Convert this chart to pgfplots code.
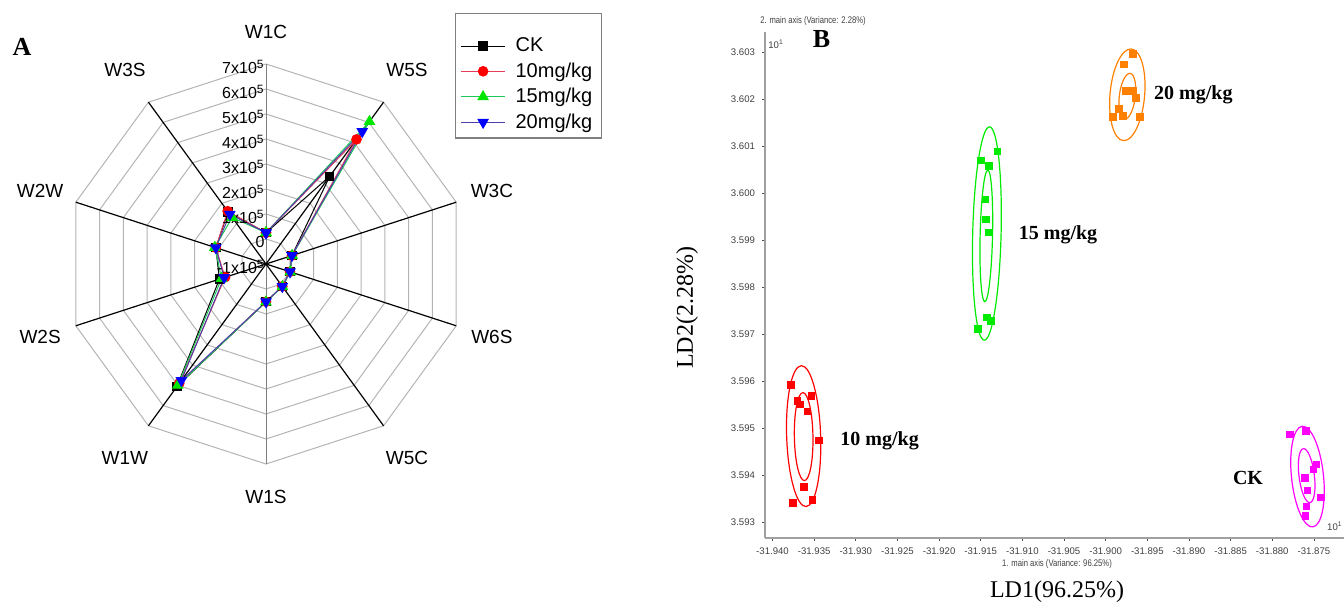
\documentclass[border=0pt]{standalone}
\usepackage{fontspec}
\setmainfont{Liberation Sans}
\newfontfamily\timesfont{Liberation Serif}
\usepackage{graphicx}
\usepackage{pgfplots}
\usepackage{pgfplotstable}
\pgfplotsset{compat=1.18}

\definecolor{ringgray}{RGB}{180,180,180}
\definecolor{redline}{RGB}{230,60,90}
\definecolor{greenline}{RGB}{30,200,90}
\definecolor{blueline}{RGB}{80,60,170}
\definecolor{mkred}{RGB}{255,0,0}
\definecolor{mkgreen}{RGB}{0,230,0}
\definecolor{mkblue}{RGB}{0,0,255}
\definecolor{orng}{RGB}{255,128,0}
\definecolor{magn}{RGB}{255,0,255}
\definecolor{ldagreen}{RGB}{0,235,0}
\definecolor{axgray}{RGB}{160,160,160}

% radar values, in units of 10^5
\pgfplotstableread{
ang  ck   c10  c15  c20
90   0.25 0.25 0.25 0.25
54   3.34 5.16 6.04 5.55
18   0.09 0.09 0.10 0.09
-18  0.01 0.01 0.02 0.01
-54  0.11 0.11 0.12 0.11
-90  0.51 0.51 0.52 0.51
-126 5.06 4.90 5.00 4.76
-162 0.96 0.72 0.87 0.76
162  1.11 1.11 1.15 1.11
126  1.58 1.61 1.30 1.46
90   0.25 0.25 0.25 0.25
}\radardata

% LDA scores
\pgfplotstableread{
x y
-31.93779 3.59592
-31.93700 3.59558
-31.93668 3.59551
-31.93536 3.59569
-31.93584 3.59535
-31.93443 3.59474
-31.93623 3.59375
-31.93755 3.59341
-31.93520 3.59347
}\tenmg
\pgfplotstableread{
x y
-31.91300 3.60088
-31.91499 3.60069
-31.91403 3.60058
-31.91444 3.59987
-31.91439 3.59944
-31.91403 3.59916
-31.91427 3.59736
-31.91379 3.59728
-31.91535 3.59711
}\fifteenmg
\pgfplotstableread{
x y
-31.89675 3.60296
-31.89783 3.60274
-31.89759 3.60217
-31.89675 3.60217
-31.89639 3.60202
-31.89843 3.60179
-31.89915 3.60162
-31.89795 3.60164
-31.89587 3.60162
}\twentymg
\pgfplotstableread{
x y
-31.87787 3.59487
-31.87595 3.59494
-31.87467 3.59423
-31.87508 3.59412
-31.87607 3.59394
-31.87580 3.59368
-31.87415 3.59353
-31.87587 3.59333
-31.87604 3.59313
}\ckdata

\begin{document}
\begin{tikzpicture}
\path[use as bounding box] (0,0) rectangle (672pt,301.5pt);

% ---------------- panel A: radar ----------------
\begin{axis}[
at={(8pt,44.5pt)}, anchor=south west,
width=250pt, height=250pt, scale only axis,
xmin=-10, xmax=10, ymin=-10, ymax=10,
hide axis, clip=false,
legend style={at={(0.878,1.002)}, anchor=north west, draw=gray, line width=0.6pt,
  font=\fontsize{10}{11}\selectfont, inner xsep=2.5pt, inner ysep=1.5pt, row sep=0pt,
  cells={anchor=west}, /tikz/every odd column/.append style={column sep=3pt}},
legend image code/.code={\draw[mark repeat=2,mark phase=2] plot coordinates {(0pt,0pt) (11pt,0pt) (22pt,0pt)};}
]
\pgfplotsinvokeforeach{1,...,8}{
\addplot[ringgray, line width=0.5pt, data cs=polar, forget plot] coordinates {(90,#1) (54,#1) (18,#1) (-18,#1) (-54,#1) (-90,#1) (-126,#1) (-162,#1) (162,#1) (126,#1) (90,#1)};
}
\addplot[gray, line width=0.5pt, data cs=polar, forget plot] coordinates {(90,8) (-90,8)};
\addplot[black, line width=0.6pt, data cs=polar, forget plot] coordinates {(54,8) (-126,8)};
\addplot[black, line width=0.6pt, data cs=polar, forget plot] coordinates {(18,8) (-162,8)};
\addplot[black, line width=0.6pt, data cs=polar, forget plot] coordinates {(-18,8) (162,8)};
\addplot[black, line width=0.6pt, data cs=polar, forget plot] coordinates {(-54,8) (126,8)};

% blank first legend row: the reference leaves room above CK
\addlegendimage{empty legend}
\addlegendentry{\rule{0pt}{3pt}}

\addplot[black, line width=0.5pt, mark=square*, mark size=2.1pt, mark options={fill=black}, data cs=polar]
  table[x=ang, y expr=\thisrow{ck}+1] {\radardata};
\addlegendentry{CK}
\addplot[redline, line width=0.5pt, mark=*, mark size=2.4pt, mark options={draw=mkred, fill=mkred}, data cs=polar]
  table[x=ang, y expr=\thisrow{c10}+1] {\radardata};
\addlegendentry{10mg/kg}
\addplot[greenline, line width=0.5pt, mark=triangle*, mark size=2.9pt, mark options={draw=mkgreen, fill=mkgreen}, data cs=polar]
  table[x=ang, y expr=\thisrow{c15}+1] {\radardata};
\addlegendentry{15mg/kg}
\addplot[blueline, line width=0.5pt, mark=triangle*, mark size=2.9pt, mark options={rotate=180, draw=mkblue, fill=mkblue}, data cs=polar]
  table[x=ang, y expr=\thisrow{c20}+1] {\radardata};
\addlegendentry{20mg/kg}

% radial tick labels
\begin{scope}[every node/.style={anchor=east, inner sep=0.5pt, font=\fontsize{8}{9}\selectfont, yshift=-1.5pt}]
\node at (axis cs:0,8) {7x10\textsuperscript{5}};
\node at (axis cs:0,7) {6x10\textsuperscript{5}};
\node at (axis cs:0,6) {5x10\textsuperscript{5}};
\node at (axis cs:0,5) {4x10\textsuperscript{5}};
\node at (axis cs:0,4) {3x10\textsuperscript{5}};
\node at (axis cs:0,3) {2x10\textsuperscript{5}};
\node at (axis cs:0,2) {1x10\textsuperscript{5}};
\node at (axis cs:0,1) {0};
\node at (axis cs:0,0) {-1x10\textsuperscript{5}};
\end{scope}

% sensor names
\begin{scope}[every node/.style={font=\fontsize{9.5}{11}\selectfont}]
\node at (axis cs:{9.3*cos(90)},{9.3*sin(90)}) {W1C};
\node at (axis cs:{9.6*cos(54)},{9.6*sin(54)}) {W5S};
\node at (axis cs:{9.5*cos(18)},{9.5*sin(18)}) {W3C};
\node at (axis cs:{9.5*cos(-18)},{9.5*sin(-18)}) {W6S};
\node at (axis cs:{9.6*cos(-54)},{9.6*sin(-54)}) {W5C};
\node at (axis cs:{9.3*cos(-90)},{9.3*sin(-90)}) {W1S};
\node at (axis cs:{9.6*cos(-126)},{9.6*sin(-126)}) {W1W};
\node at (axis cs:{9.5*cos(-162)},{9.5*sin(-162)}) {W2S};
\node at (axis cs:{9.5*cos(162)},{9.5*sin(162)}) {W2W};
\node at (axis cs:{9.6*cos(126)},{9.6*sin(126)}) {W3S};
\end{scope}
\end{axis}

\node[font=\timesfont\bfseries\fontsize{13}{14}\selectfont] at (11pt,278pt) {A};

% ---------------- panel B: LDA ----------------
\begin{axis}[
at={(382.5pt,32.65pt)}, anchor=south west,
width=293.2pt, height=252.85pt, scale only axis,
xmin=-31.9409, xmax=-31.8705, ymin=3.59267, ymax=3.603426,
axis x line*=bottom, axis y line*=left,
axis line style={axgray, line width=1pt},
xtick={-31.940,-31.935,-31.930,-31.925,-31.920,-31.915,-31.910,-31.905,-31.900,-31.895,-31.890,-31.885,-31.880,-31.875},
ytick={3.593,3.594,3.595,3.596,3.597,3.598,3.599,3.600,3.601,3.602,3.603},
scaled ticks=false,
tick align=outside, major tick length=1.5pt,
tick style={black!70, line width=0.4pt},
xticklabel style={/pgf/number format/.cd, fixed, fixed zerofill, precision=3},
yticklabel style={/pgf/number format/.cd, fixed, fixed zerofill, precision=3},
tick label style={font=\fontsize{4.8}{5}\selectfont, text=black!75},
/pgf/number format/assume math mode=true,
clip=false
]
\addplot[only marks, mark=square*, mark size=1.6pt, mkred] table {\tenmg};
\addplot[only marks, mark=square*, mark size=1.6pt, ldagreen] table {\fifteenmg};
\addplot[only marks, mark=square*, mark size=1.6pt, orng] table {\twentymg};
\addplot[only marks, mark=square*, mark size=1.6pt, magn] table {\ckdata};

\draw[mkred, line width=0.6pt] (axis cs:-31.93626,3.59483) ellipse [x radius=8.5pt, y radius=35.25pt, rotate=1.9];
\draw[mkred, line width=0.6pt] (axis cs:-31.93626,3.59482) ellipse [x radius=4.65pt, y radius=22pt, rotate=1];
\draw[ldagreen, line width=0.6pt] (axis cs:-31.91426,3.59914) ellipse [x radius=7.1pt, y radius=53.35pt, rotate=-1.4];
\draw[ldagreen, line width=0.6pt] (axis cs:-31.91433,3.59909) ellipse [x radius=3.1pt, y radius=32.9pt, rotate=-1.3];
\draw[orng, line width=0.6pt] (axis cs:-31.8974,3.60209) ellipse [x radius=8.65pt, y radius=23pt, rotate=-5];
\draw[orng, line width=0.6pt] (axis cs:-31.8974,3.60206) ellipse [x radius=4pt, y radius=11.5pt, rotate=-7];
\draw[magn, line width=0.6pt] (axis cs:-31.87577,3.59397) ellipse [x radius=8pt, y radius=25.3pt, rotate=6];
\draw[magn, line width=0.6pt] (axis cs:-31.87587,3.59399) ellipse [x radius=3.85pt, y radius=13.6pt, rotate=7];
\end{axis}

\begin{scope}[every node/.style={font=\timesfont\bfseries\fontsize{10}{11}\selectfont}]
\node at (596.7pt,254pt) {20 mg/kg};
\node at (529pt,184pt) {15 mg/kg};
\node at (439.8pt,81pt) {10 mg/kg};
\node at (624pt,62.5pt) {CK};
\end{scope}

\node[font=\timesfont\bfseries\fontsize{13}{14}\selectfont] at (410.8pt,281.8pt) {B};
\node[font=\fontsize{4.8}{5}\selectfont, text=black!75] at (406.5pt,291pt) {\scalebox{0.8}[1]{2. main axis (Variance: 2.28\%)}};
\node[font=\fontsize{4.8}{5}\selectfont, text=black!75] at (528.5pt,19.5pt) {\scalebox{0.8}[1]{1. main axis (Variance: 96.25\%)}};
\node[font=\fontsize{4.8}{5}\selectfont, text=black!75, anchor=west, inner sep=0pt] at (384pt,279.5pt) {10\textsuperscript{1}};
\node[font=\fontsize{4.8}{5}\selectfont, text=black!75, anchor=east, inner sep=0pt] at (671.5pt,38.5pt) {10\textsuperscript{1}};
\node[font=\timesfont\fontsize{12}{13}\selectfont] at (528.5pt,5.5pt) {LD1(96.25\%)};
\node[font=\timesfont\fontsize{12}{13}\selectfont, rotate=90] at (343.5pt,147.5pt) {LD2(2.28\%)};
\end{tikzpicture}
\end{document}
